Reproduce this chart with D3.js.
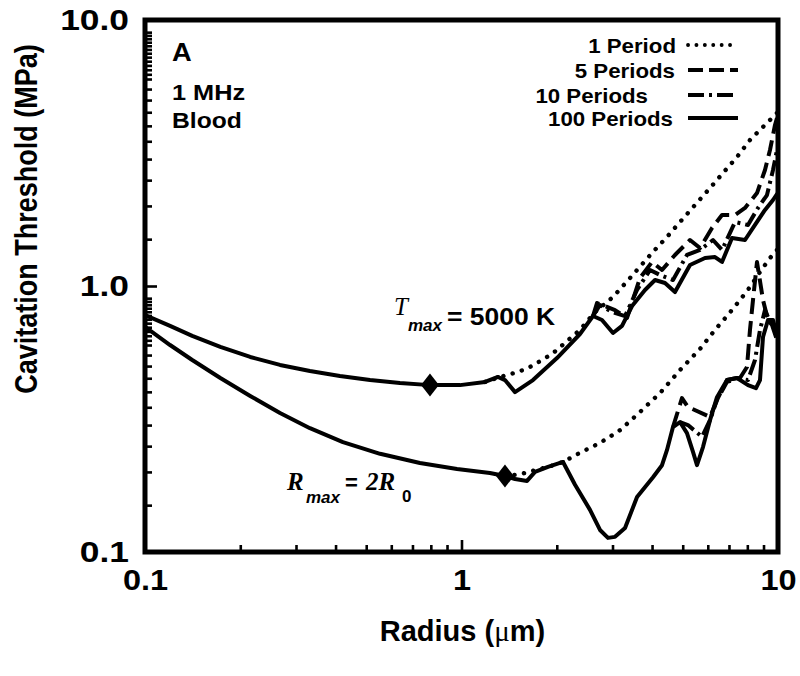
<!DOCTYPE html>
<html><head><meta charset="utf-8">
<script src="https://cdn.jsdelivr.net/npm/d3@7"></script>
<style>
body{margin:0;background:#fff}
svg text{font-family:"Liberation Sans",Arial,sans-serif;font-weight:bold;fill:#000}
</style>
</head><body>
<svg id="c" width="800" height="676"></svg>
<script>
// ---------------- DATA ----------------
const xMajorTicks = [0.1, 1, 10];
const xTickLabels = ["0.1", "1", "10"];
const xMinorTicks = [0.2,0.3,0.4,0.5,0.6,0.7,0.8,0.9,2,3,4,5,6,7,8,9];
const yMajorTicks = [0.1, 1, 10];
const yTickLabels = ["0.1", "1.0", "10.0"];
const yMinorTicks = [0.15,0.2,0.25,0.3,0.35,0.4,0.45,0.5,0.55,0.6,0.625,0.65,0.675,0.7,0.725,0.75,0.775,0.8,0.825,0.85,0.875,0.9,
                     1.5,2,2.5,3,3.5,4,4.5,5,5.5,6,6.25,6.5,6.75,7,7.25,7.5,7.75,8,8.25,8.5,8.75,9];

const legendLabels = ["1 Period", "5 Periods", "10 Periods", "100 Periods"];
const panelLabels = ["A", "1 MHz", "Blood"];

// Tmax = 5000 K family: common part (all pulse lengths coincide)
const tmaxCommonR = [0.100,0.120,0.141,0.173,0.215,0.267,0.332,0.413,0.514,0.639,0.795,0.989,1.187,1.304];
const tmaxCommonP = [0.778,0.708,0.649,0.590,0.541,0.505,0.479,0.459,0.443,0.432,0.424,0.424,0.436,0.455];
// 1 period
const tmax1R = [1.187,1.392,1.509,1.646,1.796,1.932,2.123,2.368,2.641,3.011,3.408,3.999,4.460,4.901,5.467,6.098,6.703,7.421,8.156,8.645,9.230,9.927];
const tmax1P = [0.436,0.463,0.475,0.496,0.527,0.555,0.611,0.684,0.798,0.909,1.072,1.331,1.529,1.740,2.016,2.335,2.660,3.055,3.539,3.793,4.100,4.472];
// 5 periods
const tmax5R = [2.603,2.680,3.055,3.334,3.664,3.999,4.301,4.726,5.272,5.670,6.187,6.654,7.313,7.866,8.583,9.097,9.434,9.784,9.927];
const tmax5P = [0.771,0.863,0.812,0.758,1.072,1.231,1.149,1.308,1.489,1.389,1.652,1.849,1.849,1.965,2.236,2.730,3.245,4.030,4.282];
// 10 periods
const tmax10R = [2.603,2.739,2.989,3.286,3.586,3.941,4.239,4.658,5.157,5.670,6.232,6.654,7.313,8.039,8.645,9.230,9.643,9.927];
const tmax10P = [0.771,0.848,0.798,0.771,0.966,1.149,1.100,1.053,1.308,1.366,1.489,1.366,1.740,1.696,1.965,2.198,2.730,3.245];
// 100 periods
const tmax100R = [1.304,1.372,1.476,1.682,2.003,2.368,2.603,2.779,3.011,3.215,3.458,3.800,4.087,4.395,4.726,5.272,5.880,6.323,6.654,7.156,7.866,8.459,9.097,9.643,9.927];
const tmax100P = [0.455,0.443,0.399,0.443,0.536,0.660,0.771,0.745,0.666,0.708,0.841,0.966,1.053,1.026,0.949,1.199,1.274,1.285,1.231,1.515,1.489,1.696,1.931,2.105,2.217];

// Rmax = 2R0 family: common part
const rmaxCommonR = [0.100,0.120,0.141,0.173,0.215,0.267,0.332,0.422,0.553,0.739,0.968,1.230,1.372,1.476,1.611,1.707,1.876,2.093];
const rmaxCommonP = [0.702,0.600,0.527,0.451,0.386,0.333,0.292,0.259,0.234,0.216,0.205,0.198,0.193,0.188,0.185,0.200,0.209,0.218];
// 1 period
const rmax1R = [1.372,1.531,1.707,1.904,2.093,2.368,2.739,3.168,3.664,4.239,4.901,5.670,6.323,6.901,7.585,8.156,8.772,9.434,9.927];
const rmax1P = [0.193,0.196,0.203,0.210,0.218,0.236,0.257,0.287,0.336,0.396,0.483,0.580,0.684,0.771,0.886,0.991,1.129,1.274,1.366];
// 5 periods
const rmax5R = [4.658,4.973,5.194,6.098,6.416,6.901,7.585,7.980,8.156,8.337,8.583,8.966,9.298,9.572,9.927];
const rmax5P = [0.295,0.379,0.351,0.322,0.373,0.436,0.451,0.496,0.684,0.886,1.231,0.886,0.745,0.714,0.627];
// 10 periods
const rmax10R = [4.901,5.194,5.753,6.098,6.416,6.901,7.421,8.039,8.459,8.772,9.097,9.434,9.927];
const rmax10P = [0.308,0.300,0.271,0.313,0.373,0.443,0.451,0.443,0.527,0.684,0.812,0.732,0.684];
// 100 periods
const rmax100R = [2.093,2.284,2.547,2.739,2.903,3.055,3.286,3.586,4.028,4.301,4.460,4.658,4.901,5.157,5.388,5.547,5.794,6.098,6.416,6.901,7.421,8.039,8.521,8.772,8.966,9.298,9.643,9.927];
const rmax100P = [0.218,0.179,0.144,0.121,0.113,0.114,0.123,0.161,0.191,0.212,0.242,0.295,0.308,0.280,0.238,0.212,0.248,0.313,0.382,0.443,0.451,0.424,0.413,0.443,0.643,0.745,0.745,0.655];

// diamond markers (transition points)
const markerR = [0.795, 1.372];
const markerP = [0.424, 0.193];

// ---------------- DRAW ----------------
const svg = d3.select("#c");
const L = 145, R = 778, T = 20, B = 552;
const x = d3.scaleLog().domain([0.1, 10]).range([L, R]);
const y = d3.scaleLog().domain([0.1, 10]).range([B, T]);
const zip = (a, b) => a.map((v, i) => [v, b[i]]);
const line = d3.line().x(d => x(d[0])).y(d => y(d[1]));

// widen glyphs horizontally (the reference text is slightly stretched)
function stretch(sel, k) {
  sel.each(function () {
    const l = this.getComputedTextLength();
    this.setAttribute("textLength", l * k);
    this.setAttribute("lengthAdjust", "spacingAndGlyphs");
  });
  return sel;
}

const dashes = {dotted: "0.1,9.5", dashed: "16,7", dashdot: "16,5,3,5", solid: null};

svg.append("clipPath").attr("id", "clip").append("rect")
  .attr("x", L).attr("y", T).attr("width", R - L).attr("height", B - T);

const curves = svg.append("g").attr("clip-path", "url(#clip)");
const seriesList = [
  {d: zip(tmax1R, tmax1P), s: "dotted"},
  {d: zip(rmax1R, rmax1P), s: "dotted"},
  {d: zip(tmax5R, tmax5P), s: "dashed"},
  {d: zip(rmax5R, rmax5P), s: "dashed"},
  {d: zip(tmax10R, tmax10P), s: "dashdot"},
  {d: zip(rmax10R, rmax10P), s: "dashdot"},
  {d: zip(tmaxCommonR, tmaxCommonP), s: "solid"},
  {d: zip(rmaxCommonR, rmaxCommonP), s: "solid"},
  {d: zip(tmax100R, tmax100P), s: "solid"},
  {d: zip(rmax100R, rmax100P), s: "solid"}
];
seriesList.forEach(sr => {
  curves.append("path").attr("d", line(sr.d))
    .attr("fill", "none").attr("stroke", "#000")
    .attr("stroke-width", sr.s === "dotted" ? 4.4 : 4)
    .attr("stroke-linejoin", "round")
    .attr("stroke-linecap", sr.s === "dotted" ? "round" : (sr.s === "solid" ? "round" : "butt"))
    .attr("stroke-dasharray", dashes[sr.s]);
});

// diamonds
svg.append("g").selectAll("path").data(zip(markerR, markerP)).join("path")
  .attr("d", d => {
    const cx = x(d[0]), cy = y(d[1]);
    return `M${cx},${cy - 11.5}L${cx + 9},${cy}L${cx},${cy + 11.5}L${cx - 9},${cy}Z`;
  })
  .attr("fill", "#000");

// axes
function styleAxis(g, fs) {
  g.attr("font-family", null).attr("font-size", null);
  g.select(".domain").remove();
  g.selectAll(".tick line").attr("stroke", "#000").attr("stroke-width", 2.6);
  g.selectAll(".tick text").style("font-size", fs + "px").style("font-weight", "bold")
    .style("font-family", '"Liberation Sans",Arial,sans-serif');
}
svg.append("g").attr("transform", `translate(0,${B})`)
  .call(d3.axisBottom(x).tickValues(xMinorTicks).tickSize(-7).tickFormat(""))
  .call(g => styleAxis(g, 28));
const gxMaj = svg.append("g").attr("transform", `translate(0,${B})`)
  .call(d3.axisBottom(x).tickValues(xMajorTicks).tickSize(-12).tickPadding(17)
        .tickFormat((d, i) => xTickLabels[i]))
  .call(g => styleAxis(g, 29));
stretch(gxMaj.selectAll(".tick text"), 1.12);
svg.append("g").attr("transform", `translate(${L},0)`)
  .call(d3.axisLeft(y).tickValues(yMinorTicks).tickSize(-7).tickFormat(""))
  .call(g => styleAxis(g, 28));
const gyMaj = svg.append("g").attr("transform", `translate(${L},0)`)
  .call(d3.axisLeft(y).tickValues(yMajorTicks).tickSize(-12).tickPadding(16)
        .tickFormat((d, i) => yTickLabels[i]))
  .call(g => styleAxis(g, 29));
stretch(gyMaj.selectAll(".tick text"), 1.22);

// frame
svg.append("rect").attr("x", L).attr("y", T).attr("width", R - L).attr("height", B - T)
  .attr("fill", "none").attr("stroke", "#000").attr("stroke-width", 5);

// axis titles
svg.append("text").attr("transform", "translate(37,219) rotate(-90) scale(1,1.18)")
  .attr("text-anchor", "middle").style("font-size", "27px")
  .text("Cavitation Threshold (MPa)");
const xt = svg.append("text").attr("x", (L + R) / 2 + 1).attr("y", 641)
  .attr("text-anchor", "middle").style("font-size", "29px");
xt.append("tspan").text("Radius (");
xt.append("tspan").style("font-family", '"Liberation Serif","Times New Roman",serif')
  .style("font-weight", "normal").text("\u03BC");
xt.append("tspan").text("m)");

// panel labels
stretch(svg.append("text").attr("x", 172).attr("y", 61).style("font-size", "26px").text(panelLabels[0]), 1.05);
stretch(svg.append("text").attr("x", 172).attr("y", 100).style("font-size", "22px").text(panelLabels[1]), 1.15);
stretch(svg.append("text").attr("x", 172).attr("y", 128).style("font-size", "22px").text(panelLabels[2]), 1.12);

// legend
const legRight = [676, 675, 648, 673];
const legBase = [53, 78, 103, 126];
const legStyle = ["dotted", "dashed", "dashdot", "solid"];
const legDash = {dotted: "0.1,8.3", dashed: "15,6", dashdot: "16,5,3,5", solid: null};
legendLabels.forEach((lab, i) => {
  stretch(svg.append("text").attr("x", legRight[i]).attr("y", legBase[i])
    .attr("text-anchor", "end").style("font-size", "21px").text(lab), 1.06);
  svg.append("line").attr("x1", 688).attr("x2", 738)
    .attr("y1", legBase[i] - 8).attr("y2", legBase[i] - 8)
    .attr("stroke", "#000").attr("stroke-width", legStyle[i] === "dotted" ? 3.8 : 4)
    .attr("stroke-linecap", legStyle[i] === "dotted" ? "round" : "butt")
    .attr("stroke-dasharray", legDash[legStyle[i]]);
});

// curve annotations
const serif = '"Liberation Serif","Times New Roman",serif';
svg.append("text").attr("x", 394).attr("y", 315).style("font-family", serif)
  .style("font-style", "italic").style("font-weight", "normal").style("font-size", "25px").text("T");
svg.append("text").attr("x", 408).attr("y", 331).style("font-style", "italic").style("font-size", "17px").text("max");
stretch(svg.append("text").attr("x", 447).attr("y", 325).style("font-size", "23px").text("= 5000 K"), 1.15);

svg.append("text").attr("x", 287).attr("y", 490).style("font-family", serif)
  .style("font-style", "italic").style("font-size", "25px").text("R");
svg.append("text").attr("x", 306).attr("y", 503).style("font-style", "italic").style("font-size", "17px").text("max");
svg.append("text").attr("x", 345).attr("y", 490).style("font-size", "22px").text("=");
svg.append("text").attr("x", 366).attr("y", 490).style("font-family", serif)
  .style("font-style", "italic").style("font-size", "25px").text("2R");
svg.append("text").attr("x", 402).attr("y", 502).style("font-size", "17px").text("0");
</script>
</body></html>
